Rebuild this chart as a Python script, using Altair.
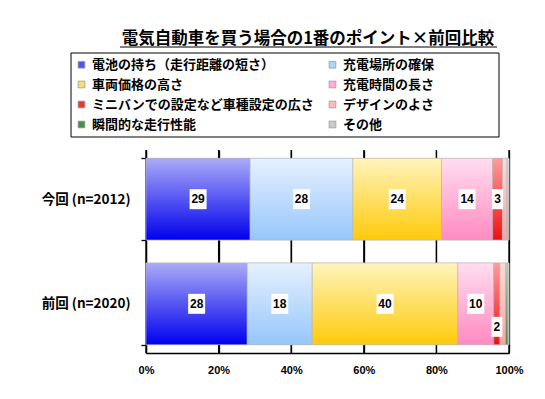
import altair as alt
import pandas as pd

rows = ["今回 (n=2012)", "前回 (n=2020)"]
cats = ["電池の持ち（走行距離の短さ）", "充電場所の確保", "車両価格の高さ", "充電時間の長さ",
        "ミニバンでの設定など車種設定の広さ", "デザインのよさ", "瞬間的な走行性能", "その他"]
values_now = [28.7, 28.3, 24.4, 14.1, 2.7, 1.3, 0.0, 0.5]
values_prev = [27.9, 17.9, 40.1, 9.9, 1.7, 1.6, 0.6, 0.3]
x_ticks = [0, 20, 40, 60, 80, 100]
title_text = "電気自動車を買う場合の1番のポイント×前回比較"
labelled = 5  # first five categories carry value labels

legend_colors = ["#5555ee", "#b0d4fa", "#ffdd66", "#ffb0d4", "#ee3333", "#ffbcbc", "#4a8a4a", "#cccccc"]
grad_top = ["#ababf7", "#e6f1ff", "#fff4bd", "#ffdeee", "#ff9c9c", "#ffd8d8", "#b8d4b8", "#e2e2e2"]
grad_bot = ["#0000ee", "#96c6fb", "#ffca0a", "#ff8ac2", "#ee1010", "#f8a4a4", "#3a7a3a", "#b5b5b5"]

JP = "Noto Sans CJK JP"
LAT = "Liberation Sans"

recs = []
for r, vals in zip(rows, [values_now, values_prev]):
    for i, (c, v) in enumerate(zip(cats, vals)):
        recs.append({"row": r, "cat": c, "value": v, "idx": i, "lbl": str(int(round(v)))})
df = pd.DataFrame(recs)
ticks_df = pd.DataFrame({"tick": x_ticks})

# legend is laid out column by column: order entries so rows read left-to-right
leg_order = [0, 2, 4, 6, 1, 3, 5, 7]
leg_domain = [cats[i] for i in leg_order]
leg_range = [legend_colors[i] for i in leg_order]

def stacked():
    return (alt.Chart(df)
            .transform_stack(stack="value", groupby=["row"], as_=["x0", "x1"],
                             sort=[alt.SortField("idx", order="ascending")])
            .transform_calculate(mid="(datum.x0 + datum.x1) / 2",
                                 digits="length(datum.lbl) > 1 ? 'two' : 'one'"))

xscale = alt.Scale(domain=[0, 100], nice=False)
yscale = alt.Scale(domain=rows, paddingInner=0.22, paddingOuter=0.08)
xaxis = alt.Axis(values=x_ticks, labelExpr="datum.value + '%'", grid=True, ticks=False,
                 gridColor="#000000", gridWidth=1.3,
                 domain=True, domainColor="#000000", domainWidth=1.3,
                 labelFlush=False,
                 labelFont=LAT, labelFontWeight="bold", labelFontSize=11,
                 labelColor="black", labelPadding=11)
yaxis = alt.Axis(tickBand="extent", tickColor="#000000", tickSize=5, tickWidth=1.3,
                 domain=True, domainColor="#000000", domainWidth=1.3,
                 labelFont=JP, labelFontWeight="bold", labelFontSize=13.5,
                 labelColor="black", labelPadding=11, grid=False)

def X(f):
    return alt.X(f, scale=xscale, axis=xaxis, title=None)

def Y():
    return alt.Y("row:N", scale=yscale, sort=rows, axis=yaxis, title=None)

grid = alt.Chart(ticks_df).mark_rule(color="black", strokeWidth=1.3).encode(x=X("tick:Q"))

base = stacked().mark_bar(stroke="#b8b8b8", strokeWidth=0.6).encode(
    x=X("x0:Q"), x2="x1:Q", y=Y(),
    color=alt.Color("cat:N", scale=alt.Scale(domain=leg_domain, range=leg_range),
                    legend=alt.Legend(title=None, orient="none", legendX=-71, legendY=-92,
                                      columns=2, columnPadding=12, rowPadding=6,
                                      symbolType="square", symbolSize=45,
                                      symbolStrokeColor="#999999", symbolStrokeWidth=0.8,
                                      labelFont=JP, labelFontWeight="bold", labelFontSize=13,
                                      labelColor="black", labelLimit=400, labelOffset=4)),
)

layers = [grid, base]
for i, c in enumerate(cats):
    g = alt.Gradient(gradient="linear", x1=0, x2=0, y1=0, y2=1,
                     stops=[alt.GradientStop(color=grad_top[i], offset=0),
                            alt.GradientStop(color=grad_bot[i], offset=1)])
    layers.append(
        stacked().transform_filter(alt.datum.idx == i)
        .mark_bar(color=g, stroke="#b8b8b8", strokeWidth=0.6)
        .encode(x=X("x0:Q"), x2="x1:Q", y=Y())
    )

box_shapes = alt.Scale(domain=["one", "two"],
                       range=["M-0.55,-1H0.55V1H-0.55Z", "M-0.85,-1H0.85V1H-0.85Z"])

def label_layers(filt, yoff):
    src = stacked().transform_filter(alt.datum.idx < labelled).transform_filter(filt)
    boxes = src.mark_point(filled=True, color="white", opacity=1, strokeWidth=0,
                           size=400, yOffset=yoff).encode(
        x=X("mid:Q"), y=Y(),
        shape=alt.Shape("digits:N", scale=box_shapes, legend=None))
    texts = src.mark_text(font=LAT, fontWeight="bold", fontSize=12, color="black",
                          yOffset=yoff).encode(x=X("mid:Q"), y=Y(), text="lbl:N")
    return [boxes, texts]

special = (alt.datum.row == rows[1]) & (alt.datum.idx == 4)
layers += label_layers(~special, 0)
layers += label_layers(special, 23)

one = pd.DataFrame({"k": [0]})
title_mark = alt.Chart(one).mark_text(font=JP, fontSize=16.5, fontWeight="bold", color="black",
                                      align="center", baseline="alphabetic").encode(
    x=alt.value(162), y=alt.value(-106), text=alt.value(title_text))
underline = alt.Chart(one).mark_rule(color="black", strokeWidth=1.2).encode(
    x=alt.value(-26), x2=alt.value(351), y=alt.value(-103))
frame = alt.Chart(one).mark_rect(fill="transparent", stroke="black", strokeWidth=1).encode(
    x=alt.value(-75), x2=alt.value(353), y=alt.value(-97), y2=alt.value(-13))
layers += [title_mark, underline, frame]

chart = alt.layer(*layers).properties(
    width=363, height=203,
    padding={"left": 138, "top": 142, "right": 28, "bottom": 38},
    autosize=alt.AutoSizeParams(type="none"),
).configure_view(strokeOpacity=0)

chart.save("out.html", embed_options={"renderer": "svg", "actions": False})
